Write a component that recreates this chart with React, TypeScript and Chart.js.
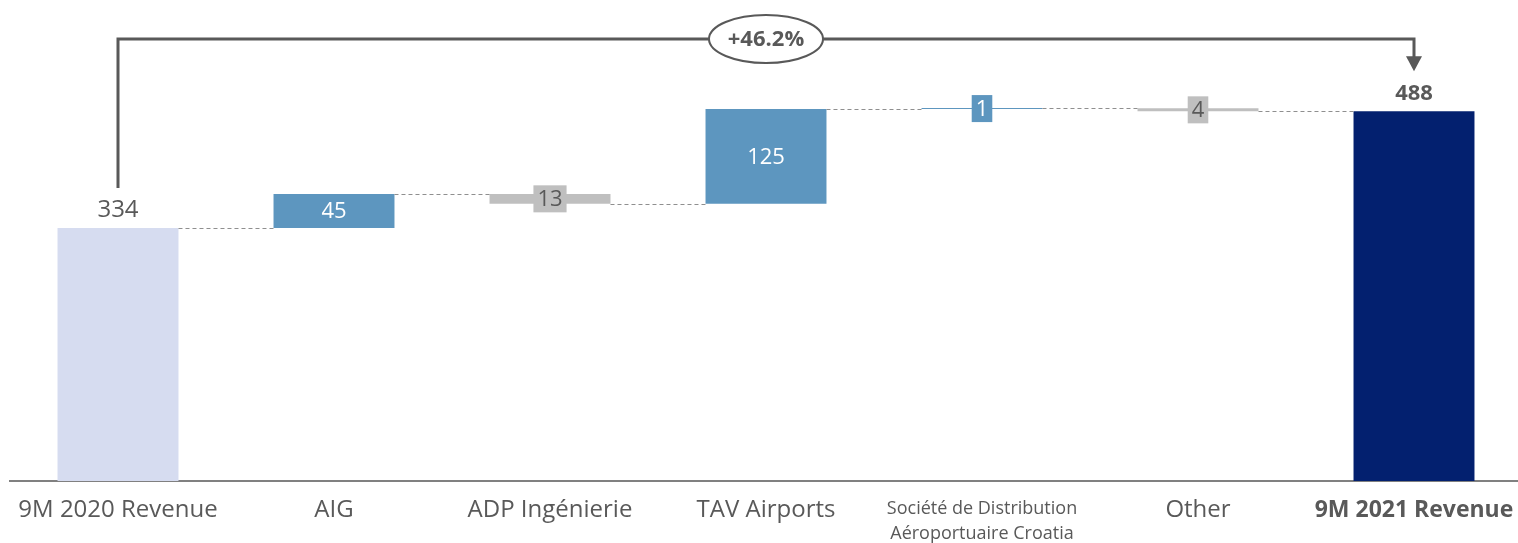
import React, { useEffect, useRef } from 'react';
import { Chart, registerables } from 'chart.js';

Chart.register(...registerables);

// ---- data ----
const categories: (string | string[])[] = [
  '9M 2020 Revenue',
  'AIG',
  'ADP Ingénierie',
  'TAV Airports',
  ['Société de Distribution', 'Aéroportuaire Croatia'],
  'Other',
  '9M 2021 Revenue',
];
const startValue = 334;
const deltas = [45, -13, 125, 1, -4];
const endValue = 488;
const growthLabel = '+46.2%';
const yMax = 635;

// ---- derived ----
const ranges: [number, number][] = [];
const levels: number[] = []; // running total after each bar
ranges.push([0, startValue]);
levels.push(startValue);
let run = startValue;
for (const d of deltas) {
  ranges.push([run, run + d]);
  run += d;
  levels.push(run);
}
ranges.push([0, endValue]);
levels.push(endValue);

const valueLabels = [String(startValue), ...deltas.map((d) => String(Math.abs(d))), String(endValue)];

const COL_START = '#d6dcf0';
const COL_UP = '#5d96bf';
const COL_DOWN = '#bfbfbf';
const COL_END = '#03206f';
const TEXT = '#595959';
const FONT = '"Open Sans", sans-serif';

const barColors = ranges.map((r, i) => {
  if (i === 0) return COL_START;
  if (i === ranges.length - 1) return COL_END;
  return r[1] >= r[0] ? COL_UP : COL_DOWN;
});

const waterfallPlugin = {
  id: 'waterfallDecor',
  afterDatasetsDraw(chart: any) {
    const ctx: CanvasRenderingContext2D = chart.ctx;
    const y = chart.scales.y;
    const bars = chart.getDatasetMeta(0).data as any[];
    const n = bars.length;
    ctx.save();

    // dashed connectors
    ctx.strokeStyle = '#8f8f8f';
    ctx.lineWidth = 1.2;
    ctx.setLineDash([4, 3]);
    for (let i = 0; i < n - 1; i++) {
      const py = Math.round(y.getPixelForValue(levels[i])) + 0.5;
      const x1 = bars[i].x + bars[i].width / 2;
      const x2 = bars[i + 1].x - bars[i + 1].width / 2;
      ctx.beginPath();
      ctx.moveTo(x1, py);
      ctx.lineTo(x2, py);
      ctx.stroke();
    }
    ctx.setLineDash([]);

    // value labels
    ctx.textAlign = 'center';
    ctx.textBaseline = 'middle';
    for (let i = 0; i < n; i++) {
      const b = bars[i];
      const text = valueLabels[i];
      if (i === 0) {
        ctx.font = `24px ${FONT}`;
        ctx.fillStyle = TEXT;
        ctx.fillText(text, b.x, b.y - 18);
        continue;
      }
      if (i === n - 1) {
        ctx.font = `bold 22px ${FONT}`;
        ctx.fillStyle = TEXT;
        ctx.fillText(text, b.x, b.y - 18);
        continue;
      }
      const top = Math.min(b.y, b.base);
      const h = Math.abs(b.base - b.y);
      const cy = top + h / 2;
      ctx.font = `22px ${FONT}`;
      if (h > 30) {
        ctx.fillStyle = '#ffffff';
        ctx.fillText(text, b.x, cy + 1);
      } else {
        const w = ctx.measureText(text).width + 8;
        const bh = 27;
        ctx.fillStyle = barColors[i];
        ctx.fillRect(b.x - w / 2, cy - bh / 2, w, bh);
        ctx.fillStyle = barColors[i] === COL_UP ? '#ffffff' : TEXT;
        ctx.fillText(text, b.x, cy + 1);
      }
    }

    // growth bracket
    const x0 = bars[0].x;
    const x6 = bars[n - 1].x;
    const yTop = 39;
    const yStart = bars[0].y - 40;
    const tip = bars[n - 1].y - 40;
    ctx.strokeStyle = TEXT;
    ctx.fillStyle = TEXT;
    ctx.lineWidth = 3;
    ctx.lineJoin = 'miter';
    ctx.beginPath();
    ctx.moveTo(x0, yStart);
    ctx.lineTo(x0, yTop);
    ctx.lineTo(x6, yTop);
    ctx.lineTo(x6, tip - 14);
    ctx.stroke();
    ctx.beginPath();
    ctx.moveTo(x6 - 8, tip - 15);
    ctx.lineTo(x6 + 8, tip - 15);
    ctx.lineTo(x6, tip);
    ctx.closePath();
    ctx.fill();

    const ex = (x0 + x6) / 2;
    ctx.beginPath();
    ctx.ellipse(ex, yTop, 57, 24, 0, 0, Math.PI * 2);
    ctx.fillStyle = '#ffffff';
    ctx.fill();
    ctx.lineWidth = 2;
    ctx.strokeStyle = TEXT;
    ctx.stroke();
    ctx.fillStyle = TEXT;
    ctx.font = `bold 22px ${FONT}`;
    ctx.fillText(growthLabel, ex, yTop + 1);

    ctx.restore();
  },
};

export default function App() {
  const ref = useRef<HTMLCanvasElement>(null);
  useEffect(() => {
    if (!ref.current) return;
    const chart = new Chart(ref.current, {
      type: 'bar',
      data: {
        labels: categories,
        datasets: [
          {
            data: ranges as any,
            backgroundColor: barColors,
            borderWidth: 0,
            barPercentage: 0.56,
            categoryPercentage: 1,
            minBarLength: 1,
          },
        ],
      },
      options: {
        responsive: false,
        animation: false,
        layout: { padding: { left: 10, right: 0, top: 0, bottom: 0 } },
        plugins: {
          legend: { display: false },
          tooltip: { enabled: false },
        },
        scales: {
          x: {
            grid: { display: false, drawTicks: false },
            border: { display: true, color: '#808080', width: 2 },
            afterFit: (scale: any) => {
              scale.height = 62;
              scale.paddingLeft = 0;
              scale.paddingRight = 0;
            },
            ticks: {
              padding: 15,
              maxRotation: 0,
              autoSkip: false,
              color: TEXT,
              font: (c: any) => {
                if (c.index === 4) return { family: FONT, size: 18, lineHeight: 1.4 };
                if (c.index === categories.length - 1)
                  return { family: FONT, size: 23, weight: 'bold', lineHeight: 1.25 };
                return { family: FONT, size: 24, lineHeight: 1.2 };
              },
            },
          },
          y: {
            display: false,
            min: 0,
            max: yMax,
          },
        },
      },
      plugins: [waterfallPlugin],
    });
    return () => chart.destroy();
  }, []);

  return (
    <div
      style={{
        position: 'absolute',
        left: 0,
        top: 0,
        width: 1518,
        height: 543,
        overflow: 'hidden',
        background: '#ffffff',
      }}
    >
      <canvas ref={ref} width={1522} height={543} style={{ display: 'block' }} />
    </div>
  );
}
